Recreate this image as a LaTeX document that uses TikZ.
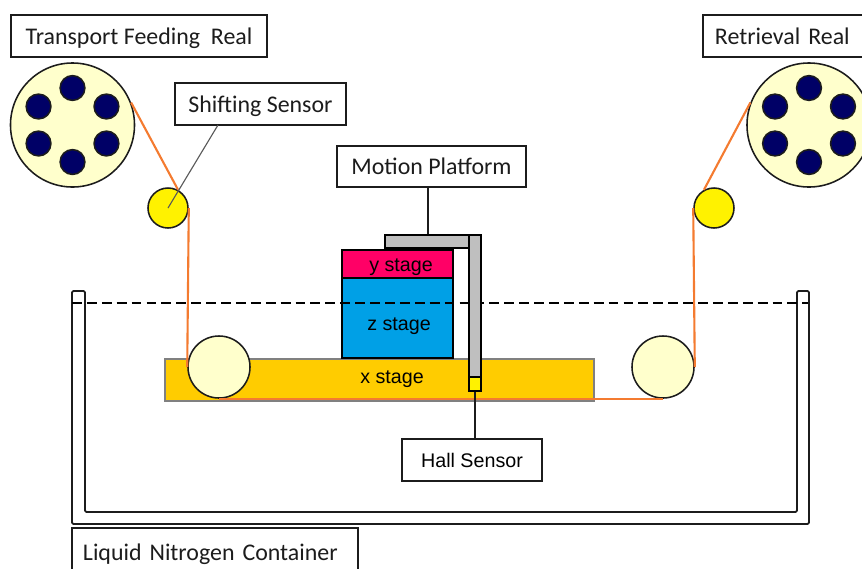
\documentclass[tikz,border=0pt]{standalone}
\usepackage{fontspec}
\usetikzlibrary{calc}
\setmainfont{Carlito}
\newfontfamily\stagefont{Liberation Sans}
\definecolor{reelfill}{HTML}{FFFFCC}
\definecolor{holefill}{HTML}{000066}
\definecolor{beltcol}{HTML}{F47B30}
\definecolor{ystagecol}{HTML}{FF0066}
\definecolor{zstagecol}{HTML}{00A0E6}
\definecolor{xstagecol}{HTML}{FFCC00}
\definecolor{armcol}{HTML}{BFBFBF}
\definecolor{inkcol}{HTML}{1C1C1C}
\tikzset{
	disc/.style={circle, draw=inkcol, line width=1.1pt, inner sep=0pt, minimum size=#1},
	labelbox/.style={draw=inkcol, line width=1.2pt, fill=white, inner sep=0pt, text height=13.3pt, text depth=1.5pt, font=\fontsize{17}{20}\selectfont, text=inkcol},
	stagebox/.style={draw=black, line width=1.2pt, inner sep=0pt},
	stagelabel/.style={inner sep=0pt, font=\stagefont\fontsize{14}{17}\selectfont, text=black},
	belt/.style={draw=beltcol, line width=1.5pt},
	wall/.style={draw=inkcol, line width=1.2pt, rounded corners=1pt}
}
\begin{document}
\begin{tikzpicture}[x=0.025cm, y=-0.025cm]
	\useasboundingbox (0,0) rectangle (862,568);

	% container and liquid level
	\draw[wall] (72,524) -- (72,291) -- (85,291) -- (85,512) -- (797,512) -- (797,291) -- (809,291) -- (809,524) -- cycle;
	\coordinate (levelL) at (72,303);
	\coordinate (levelR) at (808,303);

	% stages
	\node[stagebox, draw=gray, line width=0.8pt, fill=xstagecol, minimum width=10.72cm, minimum height=1.05cm] (xstage) at (379.5,380) {};
	\node[stagebox, fill=zstagecol, minimum width=2.78cm, minimum height=2cm] (zstage) at (397.5,318) {};
	\node[stagebox, fill=ystagecol, minimum width=2.78cm, minimum height=0.7cm] (ystage) at (397.5,264) {};
	\draw[dashed, line width=1.2pt, dash pattern=on 7pt off 3.6pt] (levelL) -- (levelR);
	\node[stagelabel] (ylabel) at (401,267) {y stage};
	\node[stagelabel] (zlabel) at (399,326) {z stage};
	\node[stagelabel] (xlabel) at (392,379) {x stage};

	% sensor arm
	\node[stagebox, fill=armcol, minimum width=2.15cm, minimum height=0.33cm] (armtop) at (428,241.5) {};
	\node[stagebox, fill=armcol, minimum width=0.3cm, minimum height=3.55cm] (armside) at (475,306) {};
	\node[stagebox, fill=yellow, minimum width=0.3cm, minimum height=0.36cm] (hallchip) at (475,384) {};

	% rollers and reels
	\node[disc=3.1cm, fill=reelfill] (reelL) at (72.5,125) {};
	\node[disc=3.1cm, fill=reelfill] (reelR) at (809,125) {};
	\foreach \a in {90,30,-30,-90,-150,150} {
		\node[disc=0.62cm, fill=holefill] (holeL\a) at ($(reelL)+(\a:0.98cm and 0.925cm)$) {};
		\node[disc=0.62cm, fill=holefill] (holeR\a) at ($(reelR)+(\a:0.98cm and 0.925cm)$) {};
	}
	\node[disc=1cm, fill=yellow] (idlerL) at (168,208) {};
	\node[disc=1cm, fill=yellow] (idlerR) at (714,208) {};
	\node[disc=1.55cm, fill=reelfill] (rollerL) at (219,367) {};
	\node[disc=1.55cm, fill=reelfill] (rollerR) at (663,367) {};

	% tape path
	\draw[belt] (reelL.21) -- (idlerL.61);
	\draw[belt] (idlerL.east) -- (rollerL.west);
	\draw[belt] (rollerL.south) -- (rollerR.south);
	\draw[belt] (rollerR.east) -- (idlerR.west);
	\draw[belt] (idlerR.119) -- (reelR.159);

	% labels
	\node[labelbox, minimum width=6.4cm, minimum height=1.05cm] (feedreal) at (139,36) {Transport Feeding\ \ Real};
	\node[labelbox, minimum width=4.28cm, minimum height=1.05cm] (shiftsensor) at (260.5,104) {Shifting Sensor};
	\node[labelbox, minimum width=4.72cm, minimum height=1.02cm] (motion) at (431.5,166.5) {Motion Platform};
	\node[labelbox, minimum width=4.2cm, minimum height=1.05cm, text width=3.6cm, align=left] (retreal) at (787,36) {Retrieval Real};
	\node[labelbox, stagelabel, text height=10pt, text depth=0pt, minimum width=3.5cm, minimum height=1.05cm] (hallsensor) at (472,460) {Hall Sensor};
	\node[labelbox, minimum width=7.15cm, minimum height=1.2cm, text width=6.6cm, align=left] (lnbox) at (215,552) {Liquid Nitrogen Container};

	% leader lines
	\coordinate (shiftfoot) at (218,125);
	\draw[draw=gray!70!black, line width=0.8pt] (shiftfoot) -- (idlerL.center);
	\draw[draw=inkcol, line width=1pt] (armtop.north |- motion.south) -- (armtop.north);
	\draw[draw=inkcol, line width=1pt] (hallchip.south) -- (hallchip.south |- hallsensor.north);
\end{tikzpicture}
\end{document}
